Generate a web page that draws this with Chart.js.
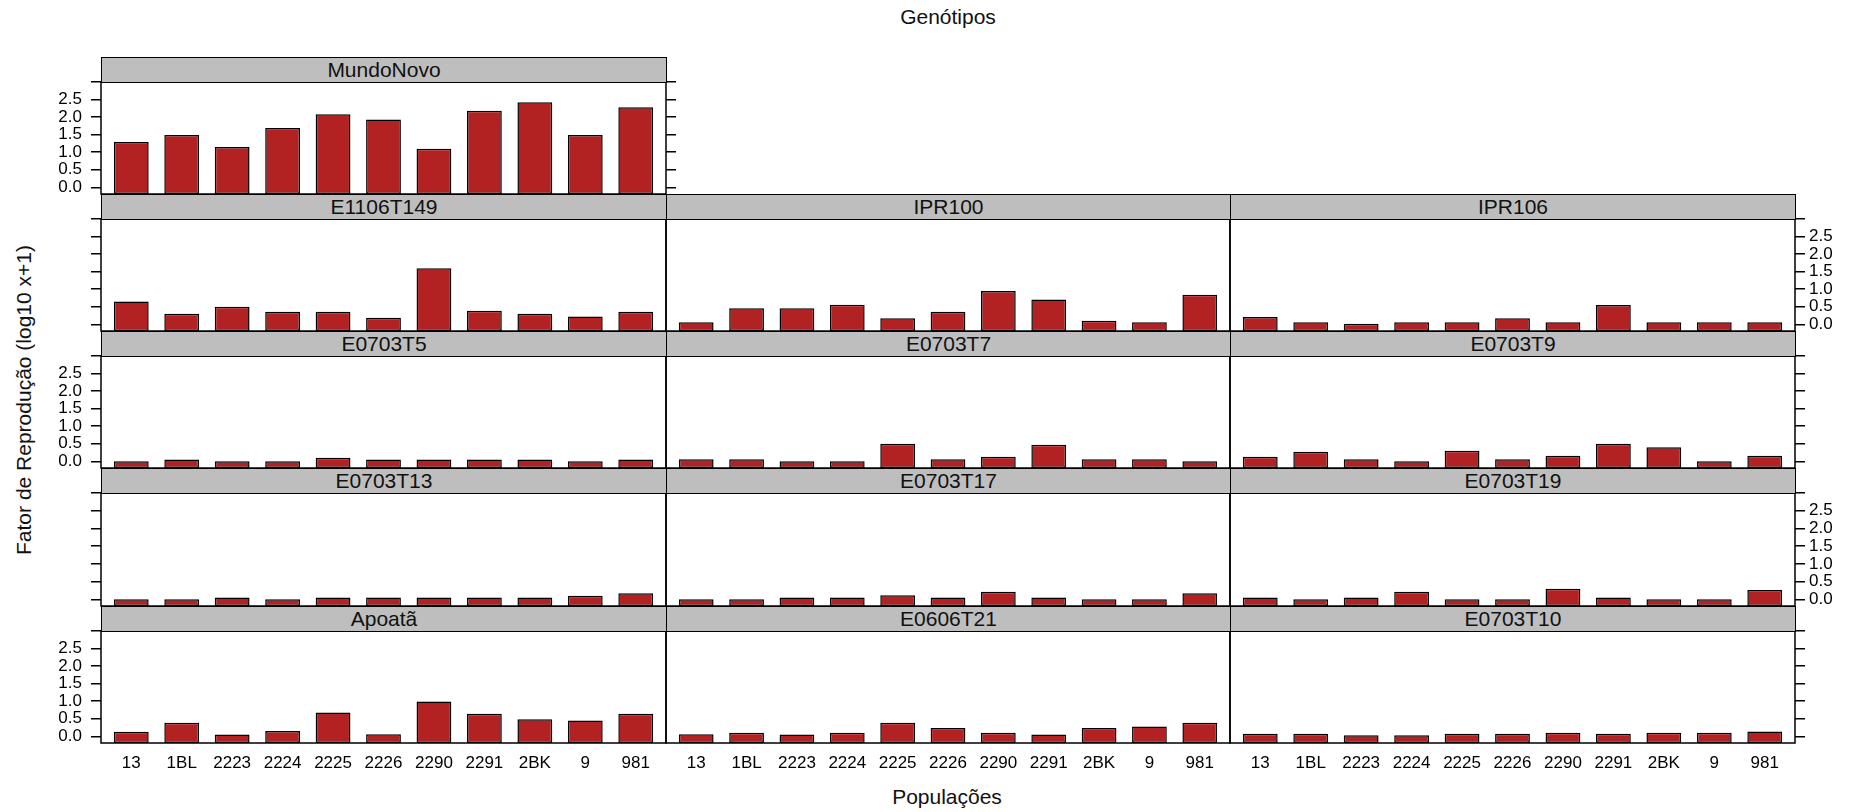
<!DOCTYPE html>
<html>

<head>
    <meta charset="utf-8">
    <title>Fator de Reprodução por genótipo</title>
    <script src="https://cdn.jsdelivr.net/npm/chart.js"></script>
</head>

<style>
    body {
        margin: 0;
        background: #fff;
        overflow: hidden;
        font-family: "Liberation Sans", Arial, sans-serif;
    }

    #page {
        position: relative;
        width: 1854px;
        height: 812px;
    }

    canvas {
        position: absolute;
    }

    .strip {
        position: absolute;
        box-sizing: border-box;
        background: #bebebe;
        border: 1px solid #000;
        text-align: center;
        font-size: 21px;
        color: #111;
        z-index: 2;
    }

    .label {
        position: absolute;
        font-size: 21px;
        color: #111;
        white-space: nowrap;
        transform: translate(-50%, -50%);
    }
</style>

<body>
    <div id="page">
        <div class="label" style="left:948px; top:17px;">Genótipos</div>
        <div class="label" style="left:947px; top:797px;">Populações</div>
        <div class="label" style="left:24px; top:400px; transform: translate(-50%, -50%) rotate(-90deg);">Fator de Reprodução (log10 x+1)</div>
    </div>

    <script>
        // populations on the x axis, same order in every panel
        const populations = ['13', '1BL', '2223', '2224', '2225', '2226', '2290', '2291', '2BK', '9', '981'];

        const yTicks = [0, 0.5, 1, 1.5, 2, 2.5, 3];
        const yTickLabels = ['0.0', '0.5', '1.0', '1.5', '2.0', '2.5', ''];

        // reproduction factor, log10(x+1), one array per genotype
        const mundoNovo = [1.29, 1.49, 1.15, 1.69, 2.08, 1.93, 1.10, 2.18, 2.42, 1.49, 2.28];
        const e1106T149 = [0.65, 0.30, 0.50, 0.36, 0.36, 0.19, 1.60, 0.39, 0.30, 0.22, 0.36];
        const ipr100 = [0.06, 0.46, 0.46, 0.56, 0.17, 0.36, 0.95, 0.71, 0.10, 0.06, 0.84];
        const ipr106 = [0.21, 0.06, 0.02, 0.06, 0.06, 0.17, 0.06, 0.55, 0.06, 0.06, 0.06];
        const e0703T5 = [0.00, 0.05, 0.00, 0.00, 0.10, 0.05, 0.05, 0.05, 0.05, 0.00, 0.05];
        const e0703T7 = [0.06, 0.06, 0.00, 0.00, 0.50, 0.06, 0.13, 0.47, 0.06, 0.06, 0.00];
        const e0703T9 = [0.13, 0.27, 0.06, 0.00, 0.30, 0.06, 0.16, 0.50, 0.40, 0.00, 0.16];
        const e0703T13 = [0.00, 0.00, 0.05, 0.00, 0.05, 0.05, 0.05, 0.05, 0.05, 0.10, 0.17];
        const e0703T17 = [0.00, 0.00, 0.05, 0.05, 0.11, 0.05, 0.21, 0.05, 0.00, 0.00, 0.17];
        const e0703T19 = [0.05, 0.00, 0.05, 0.21, 0.00, 0.00, 0.30, 0.05, 0.00, 0.00, 0.26];
        const apoata = [0.13, 0.39, 0.05, 0.15, 0.68, 0.06, 0.99, 0.64, 0.49, 0.45, 0.64];
        const e0606T21 = [0.06, 0.10, 0.05, 0.10, 0.39, 0.24, 0.10, 0.05, 0.24, 0.28, 0.39];
        const e0703T10 = [0.07, 0.07, 0.03, 0.03, 0.07, 0.07, 0.10, 0.07, 0.10, 0.10, 0.14];

        // panel grid: row, col, and which side axes get tick marks / labels
        const panels = [
            { name: 'MundoNovo', values: mundoNovo, row: 0, col: 0, left: 'labels', right: 'ticks' },
            { name: 'E1106T149', values: e1106T149, row: 1, col: 0, left: 'ticks', right: 'none' },
            { name: 'IPR100', values: ipr100, row: 1, col: 1, left: 'none', right: 'none' },
            { name: 'IPR106', values: ipr106, row: 1, col: 2, left: 'none', right: 'labels' },
            { name: 'E0703T5', values: e0703T5, row: 2, col: 0, left: 'labels', right: 'none' },
            { name: 'E0703T7', values: e0703T7, row: 2, col: 1, left: 'none', right: 'none' },
            { name: 'E0703T9', values: e0703T9, row: 2, col: 2, left: 'none', right: 'ticks' },
            { name: 'E0703T13', values: e0703T13, row: 3, col: 0, left: 'ticks', right: 'none' },
            { name: 'E0703T17', values: e0703T17, row: 3, col: 1, left: 'none', right: 'none' },
            { name: 'E0703T19', values: e0703T19, row: 3, col: 2, left: 'none', right: 'labels' },
            { name: 'Apoatã', values: apoata, row: 4, col: 0, left: 'labels', right: 'none' },
            { name: 'E0606T21', values: e0606T21, row: 4, col: 1, left: 'none', right: 'none' },
            { name: 'E0703T10', values: e0703T10, row: 4, col: 2, left: 'none', right: 'ticks' }
        ];

        const yMin = -0.19, yMax = 3.0;
        const FONT = '"Liberation Sans", Arial, sans-serif';

        // layout of the lattice
        const LEFT = 101, COL_W = 564.5, TOP = 56.5, ROW_H = 137.25, STRIP_H = 25;
        const SIDE = 70, PAD = 24, XAXIS_H = 40, LAST_ROW = 4;

        // frame around each panel
        const panelFrame = {
            id: 'panelFrame',
            afterDatasetsDraw(chart) {
                const { ctx, chartArea: a } = chart;
                ctx.save();
                ctx.strokeStyle = '#000';
                ctx.lineWidth = 1.5;
                ctx.strokeRect(a.left, a.top, a.right - a.left, a.bottom - a.top);
                ctx.restore();
            }
        };

        function sideAxis(position, mode) {
            return {
                type: 'linear',
                position: position,
                min: yMin,
                max: yMax,
                afterBuildTicks: s => { s.ticks = yTicks.map(v => ({ value: v })); },
                afterFit: s => { s.width = SIDE; },
                grid: {
                    display: mode !== 'none',
                    drawOnChartArea: false,
                    drawTicks: true,
                    tickLength: 10,
                    color: '#000',
                    lineWidth: 1.5
                },
                border: { display: false },
                ticks: {
                    display: mode === 'labels',
                    autoSkip: false,
                    padding: position === 'left' ? 9 : 4,
                    color: '#000',
                    font: { size: 17, family: FONT, lineHeight: 1 },
                    callback: (v, i) => yTickLabels[i]
                }
            };
        }

        const page = document.getElementById('page');

        panels.forEach(p => {
            const rowTop = Math.round(TOP + p.row * ROW_H);
            const top = Math.round(TOP + p.row * ROW_H + STRIP_H);
            const bottom = Math.round(TOP + (p.row + 1) * ROW_H);
            const left = Math.round(LEFT + p.col * COL_W);
            const right = Math.round(LEFT + (p.col + 1) * COL_W);
            const isBottom = p.row === LAST_ROW;

            const strip = document.createElement('div');
            strip.className = 'strip';
            strip.style.left = left + 'px';
            strip.style.top = rowTop + 'px';
            strip.style.width = (right - left + 1) + 'px';
            strip.style.height = (top - rowTop + 1) + 'px';
            strip.style.lineHeight = (top - rowTop - 1) + 'px';
            strip.textContent = p.name;
            page.appendChild(strip);

            const canvas = document.createElement('canvas');
            const cw = right - left + 2 * SIDE;
            const ch = bottom - top + PAD + (isBottom ? XAXIS_H : PAD);
            canvas.width = cw;
            canvas.height = ch;
            canvas.style.left = (left - SIDE) + 'px';
            canvas.style.top = (top - PAD) + 'px';
            canvas.style.width = cw + 'px';
            canvas.style.height = ch + 'px';
            page.appendChild(canvas);

            new Chart(canvas.getContext('2d'), {
                type: 'bar',
                data: {
                    datasets: [{
                        data: p.values.map((v, i) => ({ x: i + 1, y: v })),
                        backgroundColor: '#b22222',
                        borderColor: '#000',
                        borderWidth: 1.5,
                        borderSkipped: false,
                        base: yMin,
                        barPercentage: 0.69,
                        categoryPercentage: 1,
                        yAxisID: 'y'
                    }]
                },
                options: {
                    responsive: false,
                    animation: false,
                    devicePixelRatio: 1,
                    layout: { padding: { top: PAD, bottom: isBottom ? 0 : PAD, left: 0, right: 0 } },
                    plugins: {
                        legend: { display: false },
                        tooltip: { enabled: false }
                    },
                    scales: {
                        x: {
                            type: 'linear',
                            min: 0.4,
                            max: 11.6,
                            offset: false,
                            display: isBottom,
                            afterBuildTicks: s => { s.ticks = populations.map((c, i) => ({ value: i + 1 })); },
                            afterFit: s => { if (isBottom) s.height = XAXIS_H; },
                            grid: { display: false, drawTicks: false },
                            border: { display: false },
                            ticks: {
                                autoSkip: false,
                                maxRotation: 0,
                                padding: 10,
                                color: '#000',
                                font: { size: 17, family: FONT },
                                callback: (v, i) => populations[i]
                            }
                        },
                        y: sideAxis('left', p.left),
                        yr: sideAxis('right', p.right)
                    }
                },
                plugins: [panelFrame]
            });
        });
    </script>
</body>

</html>
